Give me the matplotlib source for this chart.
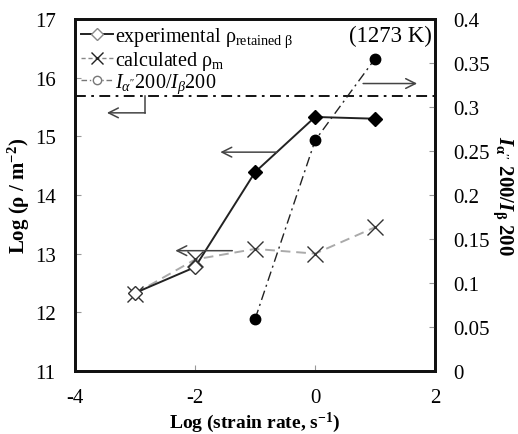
import matplotlib
matplotlib.use('Agg')
import matplotlib.pyplot as plt

plt.rcParams['font.family'] = ['Liberation Serif', 'DejaVu Serif']
plt.rcParams['axes.unicode_minus'] = False
plt.rcParams['mathtext.fontset'] = 'custom'
plt.rcParams['mathtext.rm'] = 'Liberation Serif'
plt.rcParams['mathtext.it'] = 'Liberation Serif:italic'
plt.rcParams['mathtext.bf'] = 'Liberation Serif:bold'
plt.rcParams['mathtext.bfit'] = 'Liberation Serif:italic:bold'

# data
log_rate = [-3, -2, -1, 0, 1]
rho_exp = [12.33, 12.77, 14.39, 15.33, 15.30]
rho_calc = [12.32, 12.90, 13.08, 13.00, 13.45]
ratio_x = [-1, 0, 1]
ratio = [0.059, 0.262, 0.355]
threshold = 15.69  # horizontal dash-dot level (left axis)

fig = plt.figure(figsize=(5.18, 4.35), dpi=100)
ax = fig.add_axes([0.145, 0.145, 0.695, 0.809])
ax2 = ax.twinx()

# experimental rho: solid line, open markers at low rates, filled at high
ax.plot(log_rate, rho_exp, '-', color='#222222', lw=1.4, zorder=3)
ax.plot(log_rate[:2], rho_exp[:2], 'D', ms=7, mfc='white', mec='#333333',
        mew=1.0, zorder=4)
ax.plot(log_rate[2:], rho_exp[2:], 'D', ms=7, mfc='black', mec='black', zorder=4)

# calculated rho_m
ax.plot(log_rate, rho_calc, '--', color='#aaaaaa', lw=1.4, dashes=(5, 3), zorder=2)
ax.plot(log_rate, rho_calc, 'x', ms=11, mew=1.0, color='#333333', zorder=3)

ax.axhline(threshold, color='black', lw=1.3, ls=(0, (6, 3, 1.5, 3)), zorder=2)

# intensity ratio on right axis
ax2.plot(ratio_x, ratio, color='#222222', lw=1.0, ls=(0, (7, 3, 1.5, 3)), zorder=2)
ax2.plot(ratio_x, ratio, 'o', ms=7.5, color='black', zorder=3)

# legend handles only
h1, = ax.plot([], [], '-D', color='#222222', lw=1.4, ms=6, mfc='white', mec='#888888')
h2, = ax.plot([], [], '--x', color='#888888', lw=1.0, ms=8, mec='#222222', dashes=(3, 2))
h3, = ax.plot([], [], '-o', color='#777777', lw=1.0, ms=6, mfc='white',
              ls=(0, (4, 2, 1, 2)))
leg = ax.legend([h1, h2, h3],
                ['experimental ρ$_\\mathregular{retained\\ β}$',
                 'calculated ρ$_\\mathregular{m}$',
                 '$\\mathit{I}_{α\'\'}$200/$\\mathit{I}_{β}$200'],
                loc='upper left', frameon=False, fontsize=14.5,
                handlelength=1.6, handletextpad=0.1, borderaxespad=0.1,
                labelspacing=0.0, borderpad=0.2)

# arrows pointing to the relevant axis
arrow = dict(arrowstyle='->, head_length=0.7, head_width=0.35', color='#444444',
             lw=1.1, shrinkA=0, shrinkB=0)
ax.annotate('', xy=(-1.58, 14.73), xytext=(-0.63, 14.73), arrowprops=arrow)
ax.annotate('', xy=(-2.33, 13.05), xytext=(-1.38, 13.05), arrowprops=arrow)
ax.annotate('', xy=(1.7, 15.9), xytext=(0.8, 15.9), arrowprops=arrow)
ax.plot([-2.83, -2.83], [threshold, 15.4], color='#444444', lw=1.1)
ax.annotate('', xy=(-3.47, 15.4), xytext=(-2.83, 15.4), arrowprops=arrow)

ax.text(1.95, 16.9, '(1273 K)', ha='right', va='top', fontsize=16.5)

ax.set_xlim(-4, 2)
ax.set_ylim(11, 17)
ax2.set_ylim(0, 0.4)
ax.set_xticks([-4, -2, 0, 2])
ax.set_yticks(range(11, 18))
ax2.set_yticks([0, 0.05, 0.1, 0.15, 0.2, 0.25, 0.3, 0.35, 0.4])
ax2.set_yticklabels(['0', '0.05', '0.1', '0.15', '0.2', '0.25', '0.3', '0.35', '0.4'])

for a in (ax, ax2):
    a.tick_params(direction='in', length=4, width=0.8, color='#999999',
                  labelsize=15)
    for s in a.spines.values():
        s.set_linewidth(2)
        s.set_color('#111111')
ax.tick_params(axis='y', pad=14)
ax.tick_params(axis='x', pad=12)
ax2.tick_params(axis='y', pad=13)

ax.set_xlabel('Log (strain rate, s$^\\mathregular{-1}$)', fontsize=14,
              fontweight='bold', labelpad=2)
ax.set_ylabel('Log (ρ / m$^\\mathregular{-2}$)', fontsize=15, fontweight='bold',
              labelpad=2)
ax2.set_ylabel('$\\mathbfit{I}_{\\mathbf{α\'\'}}$ 200/$\\mathbfit{I}_{\\mathbf{β}}$ 200',
               fontsize=15, fontweight='bold', rotation=270, labelpad=18)

fig.savefig('out.png', dpi=100)
